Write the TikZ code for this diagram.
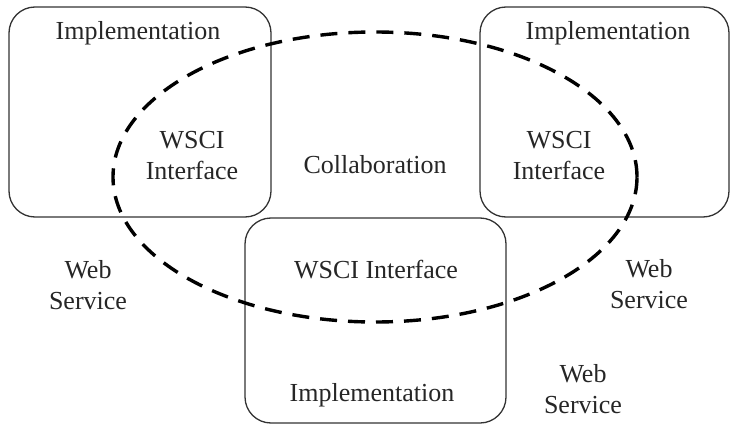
\documentclass[tikz,border=0pt]{standalone}
\usepackage{fontspec}
\setmainfont{Liberation Serif}
\usetikzlibrary{shapes.geometric}
\begin{document}
\begin{tikzpicture}[x=1pt,y=-1pt,
  svcbox/.style={draw=black!80, line width=1.3pt, rounded corners=26pt, inner sep=0pt},
  lbl/.style={font=\fontsize{26}{31}\selectfont, align=center, inner sep=0pt, text=black!85},
  collabline/.style={draw=black, line width=3.4pt, dash pattern=on 17pt off 11pt, ellipse, inner sep=0pt}]
  \useasboundingbox (0,0) rectangle (733,425);
  % three web services
  \node[svcbox, minimum width=262pt, minimum height=210pt] (ws1) at (140,112) {};
  \node[svcbox, minimum width=249pt, minimum height=210pt] (ws2) at (604.5,112) {};
  \node[svcbox, minimum width=261pt, minimum height=205pt] (ws3) at (375.5,320.5) {};
  % collaboration boundary
  \node[collabline, minimum width=524pt, minimum height=290pt] (collab) at (375,177) {};
  % texts
  \node[lbl] (impl1) at (138,33) {Implementation};
  \node[lbl] (if1) at (192,156) {WSCI\\Interface};
  \node[lbl] (impl2) at (608,33) {Implementation};
  \node[lbl] (if2) at (559,156) {WSCI\\Interface};
  \node[lbl] (if3) at (376,270) {WSCI Interface};
  \node[lbl] (impl3) at (372,395) {Implementation};
  \node[lbl] (coll) at (375,165) {Collaboration};
  \node[lbl] (web1) at (88,285) {Web\\Service};
  \node[lbl] (web2) at (649,284) {Web\\Service};
  \node[lbl] (web3) at (583,389) {Web\\Service};
\end{tikzpicture}
\end{document}
